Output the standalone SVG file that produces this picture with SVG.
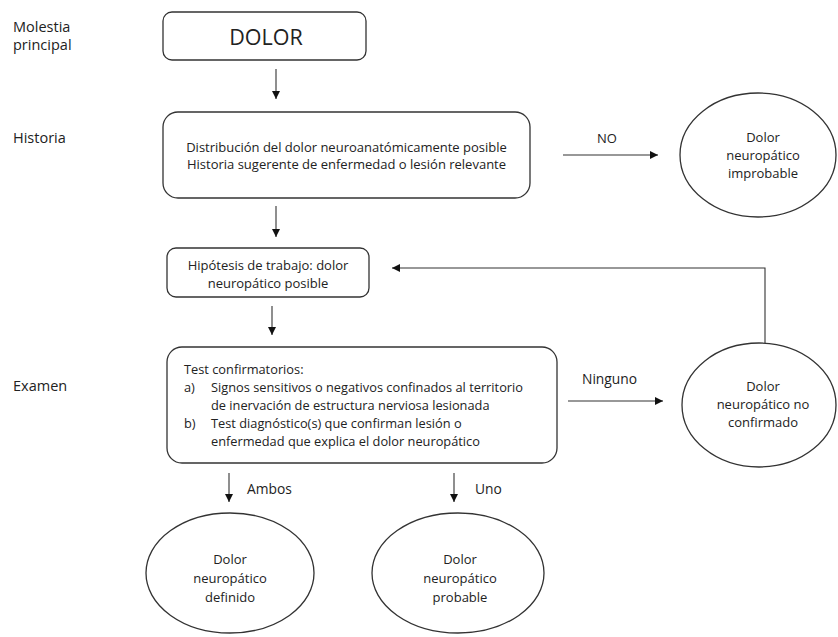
<svg xmlns="http://www.w3.org/2000/svg" width="838" height="637" viewBox="0 0 838 637">
<style>
text{font-family:"Open Sans","Liberation Sans",Arial,sans-serif;font-size:13px;fill:#222}
.c{text-anchor:middle}
.lab{font-size:14.5px}
.ex{font-size:12.8px}
.cl{font-size:13.8px}
.box{fill:#fff;stroke:#333;stroke-width:1.3}
.ln{fill:none;stroke:#333;stroke-width:1.1}
</style>
<defs>
<marker id="ah" viewBox="0 0 10 10" refX="10" refY="5" markerWidth="8" markerHeight="8" markerUnits="userSpaceOnUse" orient="auto">
<path d="M0,0 L10,5 L0,10 z" fill="#111"/>
</marker>
</defs>
<rect width="838" height="637" fill="#fff"/>
<g id="labels">
<text x="13" y="32" class="lab">Molestia</text>
<text x="13" y="50" class="lab">principal</text>
<text x="13" y="143" class="lab">Historia</text>
<text x="13" y="391" class="lab">Examen</text>
</g>
<g id="connectors">
<line class="ln" x1="276" y1="69" x2="276" y2="99" marker-end="url(#ah)"/>
<line class="ln" x1="563" y1="155" x2="658" y2="155" marker-end="url(#ah)"/>
<line class="ln" x1="276" y1="206" x2="276" y2="237" marker-end="url(#ah)"/>
<polyline class="ln" points="765,343 765,268 392,268" marker-end="url(#ah)"/>
<line class="ln" x1="272" y1="306" x2="272" y2="335" marker-end="url(#ah)"/>
<line class="ln" x1="568" y1="401" x2="663" y2="401" marker-end="url(#ah)"/>
<line class="ln" x1="229" y1="473" x2="229" y2="502" marker-end="url(#ah)"/>
<line class="ln" x1="454" y1="473" x2="454" y2="502" marker-end="url(#ah)"/>
<text x="607" y="143" class="c">NO</text>
<text x="582" y="384" class="cl">Ninguno</text>
<text x="247" y="494" class="cl">Ambos</text>
<text x="475" y="494" class="cl">Uno</text>
</g>
<g id="dolor">
<rect class="box" x="163" y="12" width="203" height="48" rx="9"/>
<text x="266" y="45" class="c" style="font-size:21.5px">DOLOR</text>
</g>
<g id="historia">
<rect class="box" x="163" y="112" width="367" height="86" rx="15"/>
<text x="346.5" y="152" class="c">Distribución del dolor neuroanatómicamente posible</text>
<text x="346.5" y="169" class="c">Historia sugerente de enfermedad o lesión relevante</text>
</g>
<g id="improbable">
<ellipse class="box" cx="758" cy="155" rx="78" ry="62"/>
<text x="763" y="142" class="c">Dolor</text>
<text x="763" y="160" class="c">neuropático</text>
<text x="763" y="178" class="c">improbable</text>
</g>
<g id="hipotesis">
<rect class="box" x="167" y="248" width="202" height="49" rx="9"/>
<text x="268" y="270" class="c">Hipótesis de trabajo: dolor</text>
<text x="268" y="288" class="c">neuropático posible</text>
</g>
<g id="examen">
<rect class="box" x="167" y="347" width="390" height="116" rx="15"/>
<text x="184" y="374" class="ex">Test confirmatorios:</text>
<text x="184" y="392" class="ex">a)</text>
<text x="211" y="392" class="ex">Signos sensitivos o negativos confinados al territorio</text>
<text x="211" y="410" class="ex">de inervación de estructura nerviosa lesionada</text>
<text x="184" y="428" class="ex">b)</text>
<text x="211" y="428" class="ex">Test diagnóstico(s) que confirman lesión o</text>
<text x="211" y="446" class="ex">enfermedad que explica el dolor neuropático</text>
</g>
<g id="noconfirmado">
<ellipse class="box" cx="759" cy="405" rx="77" ry="62"/>
<text x="763" y="391" class="c">Dolor</text>
<text x="763" y="409" class="c">neuropático no</text>
<text x="763" y="427" class="c">confirmado</text>
</g>
<g id="definido">
<ellipse class="box" cx="230" cy="573" rx="84" ry="60"/>
<text x="230" y="564" class="c">Dolor</text>
<text x="230" y="583" class="c">neuropático</text>
<text x="230" y="602" class="c">definido</text>
</g>
<g id="probable">
<ellipse class="box" cx="458" cy="573" rx="86" ry="60"/>
<text x="460" y="564" class="c">Dolor</text>
<text x="460" y="583" class="c">neuropático</text>
<text x="460" y="602" class="c">probable</text>
</g>
</svg>
